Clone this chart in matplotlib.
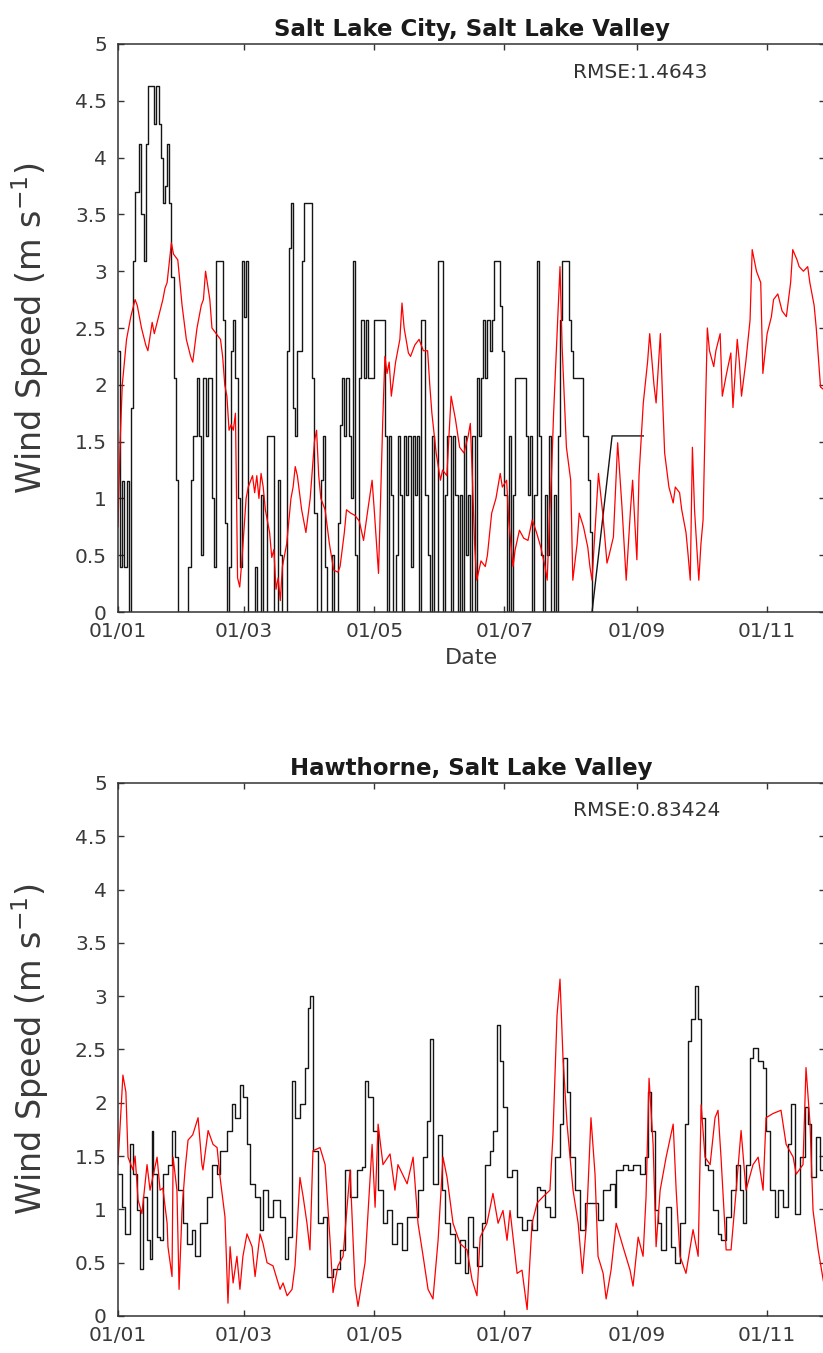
import matplotlib
matplotlib.use('Agg')
import matplotlib.pyplot as plt
from matplotlib.ticker import FixedLocator, FuncFormatter

# ---------------- data (day of year since 01/01, wind speed m/s) ----------------
month_days = [0, 59, 120, 181, 243, 304]
month_labels = ['01/01', '01/03', '01/05', '01/07', '01/09', '01/11']
y_ticks = [0, 0.5, 1, 1.5, 2, 2.5, 3, 3.5, 4, 4.5, 5]

titles = ['Salt Lake City, Salt Lake Valley', 'Hawthorne, Salt Lake Valley']
rmse_values = ['1.4643', '0.83424']

# Salt Lake City observed (black, stepped)
slc_obs = [(0,2.3),(1,0.4),(2,1.15),(3,0.4),(4,1.15),(5,0),(6,1.8),(7,3.09),(8,3.7),(10,4.12),
           (11,3.5),(12,3.09),(13,4.12),(14,4.63),(16,4.63),(17,4.3),(18,4.63),(19,4.3),(20,4.0),
           (21,3.6),(22,3.75),(23,4.12),(24,3.6),(25,2.95),(26,2.06),(27,1.16),(28,0),(33,0.4),
           (34,1.16),(35,1.55),(36,1.55),(37,2.06),(38,1.55),(39,0.5),(40,2.06),(41,1.55),(42,2.06),
           (43,2.06),(44,1.0),(45,0.4),(46,3.09),(48,3.09),(49,2.57),(50,0.78),(51,0),(52,0.4),
           (53,2.3),(54,2.57),(55,2.06),(56,1.0),(57,0.4),(58,3.09),(59,2.6),(60,3.09),(61,0),
           (64,0.4),(65,0),(67,1.03),(68,0),(70,1.55),(72,1.55),(73,0),(75,1.16),(76,0.5),(77,0),
           (79,2.3),(80,3.2),(81,3.6),(82,1.8),(83,1.55),(84,2.3),(86,3.09),(87,3.6),(90,3.6),
           (91,2.06),(92,0.87),(93,0),(95,1.16),(96,1.55),(97,0.4),(98,0),(100,0.5),(101,0),
           (103,0.78),(104,1.65),(105,2.06),(106,1.55),(107,2.06),(108,1.55),(109,1.0),(110,3.09),
           (111,0.5),(112,0),(113,2.06),(114,2.57),(115,2.06),(116,2.57),(117,2.06),(119,2.06),
           (120,2.57),(124,2.57),(125,1.55),(126,0),(127,1.55),(128,1.03),(129,0),(130,0.5),
           (131,1.55),(132,1.03),(133,0),(134,1.55),(135,1.03),(136,1.55),(137,0.4),(138,1.55),
           (139,1.03),(140,1.55),(141,0),(142,2.57),(143,2.57),(144,1.03),(145,0.5),(146,0),
           (147,1.55),(148,0),(150,3.09),(151,3.09),(152,0),(153,1.03),(154,1.55),(155,1.55),
           (156,0),(157,1.55),(158,1.03),(159,0),(160,1.03),(161,0),(162,1.55),(163,0.5),
           (164,1.03),(165,0),(166,1.55),(167,0),(168,2.06),(169,1.55),(170,2.06),(171,2.57),
           (172,2.06),(173,2.57),(174,2.3),(175,2.57),(176,3.09),(178,3.09),(179,2.69),(180,2.3),
           (181,1.03),(182,0),(183,1.55),(184,0),(185,1.03),(186,2.06),(190,2.06),(191,1.55),
           (192,1.03),(193,1.55),(194,0),(195,1.03),(196,3.09),(197,1.55),(198,0.5),(199,0),
           (200,1.03),(201,0.5),(202,1.55),(203,0),(204,1.03),(205,0),(206,1.55),(207,2.57),
           (208,3.09),(210,3.09),(211,2.57),(212,2.3),(213,2.06),(217,2.06),(218,1.55),
           (220,1.16),(221,0.7),(222,0)]
# Salt Lake City observed, interpolated across missing data
slc_obs_gap = [(222,0),(231.4,1.55),(246,1.55)]

# Salt Lake City modelled (red)
slc_mod = [(0,0.75),(1,1.5),(2,2.0),(4,2.4),(6,2.6),(8,2.75),(9,2.7),(11,2.5),(13,2.35),(14,2.3),
           (16,2.55),(17,2.45),(19,2.6),(21,2.75),(22,2.85),(23,2.9),(25,3.25),(26,3.15),(28,3.1),
           (30,2.7),(32,2.4),(34,2.25),(35,2.2),(37,2.5),(39,2.7),(40,2.75),(41,3.0),(43,2.75),
           (44,2.5),(46,2.45),(48,2.4),(49,2.25),(50,2.0),(51,1.9),(52,1.6),(53,1.65),(54,1.6),
           (55,1.75),(56,0.3),(57,0.22),(58,0.45),(60,1.0),(61,1.1),(63,1.2),(64,1.05),(65,1.2),
           (66,1.0),(67,1.22),(68,1.1),(69,0.9),(71,0.7),(72,0.48),(73,0.55),(74,0.2),(75,0.3),
           (76,0.1),(77,0.4),(79,0.6),(81,1.0),(82,1.1),(83,1.28),(84,1.2),(85,1.05),(86,0.9),
           (87,0.8),(88,0.7),(90,1.0),(92,1.5),(93,1.6),(94,1.2),(95,1.0),(97,0.9),(99,0.6),
           (101,0.37),(103,0.35),(104,0.4),(106,0.7),(107,0.9),(109,0.87),(111,0.85),(113,0.8),
           (115,0.63),(117,0.9),(119,1.16),(120,0.9),(122,0.34),(123,1.0),(124,1.69),(125,2.25),
           (126,2.1),(127,2.2),(128,1.9),(130,2.2),(132,2.4),(133,2.72),(134,2.5),(136,2.28),
           (137,2.25),(139,2.35),(141,2.4),(143,2.3),(145,2.3),(146,2.0),(147,1.75),(149,1.4),
           (151,1.16),(152,1.25),(154,1.2),(156,1.9),(158,1.7),(160,1.45),(162,1.4),(164,1.55),
           (165,1.66),(166,1.16),(167,0.6),(168,0.28),(170,0.45),(172,0.4),(173,0.5),(175,0.87),
           (177,1.0),(179,1.22),(180,1.1),(182,1.16),(183,0.8),(185,0.4),(186,0.55),(188,0.72),
           (190,0.65),(192,0.63),(194,0.81),(196,0.7),(198,0.57),(200,0.4),(201,0.28),(202,0.8),
           (203,1.2),(204,1.75),(206,2.6),(207,3.04),(208,2.33),(210,1.45),(212,1.16),(213,0.28),
           (215,0.6),(216,0.87),(218,0.75),(220,0.57),(221,0.4),(222,0.28),(224,0.9),(225,1.22),
           (227,0.87),(229,0.43),(230,0.5),(232,0.66),(234,1.49),(236,0.93),(237,0.6),(238,0.28),
           (240,0.9),(241,1.16),(242,0.8),(243,0.46),(244,1.2),(246,1.84),(248,2.2),(249,2.45),
           (251,2.0),(252,1.84),(254,2.45),(255,1.9),(256,1.4),(258,1.1),(260,0.96),(261,1.1),
           (263,1.05),(264,0.9),(266,0.7),(267,0.5),(268,0.28),(269,1.45),(270,0.9),(272,0.28),
           (273,0.6),(274,0.81),(275,1.69),(276,2.5),(277,2.3),(279,2.16),(280,2.3),(282,2.45),
           (283,1.9),(285,2.1),(287,2.28),(288,1.8),(290,2.4),(291,2.2),(292,1.9),(294,2.2),
           (296,2.57),(297,3.19),(299,3.0),(301,2.9),(302,2.1),(304,2.45),(306,2.6),(307,2.75),
           (309,2.8),(311,2.65),(313,2.6),(315,2.9),(316,3.19),(318,3.1),(319,3.04),(321,3.0),
           (323,3.04),(324,2.9),(326,2.7),(327,2.5),(329,1.98),(331,1.95)]

# Hawthorne observed (black)
haw_obs = [(0,1.33),(2,1.02),(3.3,0.77),(5.6,1.61),(7,1.33),(8.9,0.99),(10.3,0.44),(11.7,1.12),
           (13.6,0.71),(15,0.53),(15.9,1.74),(16.4,1.33),(18.3,0.74),(19.7,0.71),(21,1.33),
           (23.4,1.42),(25.3,1.74),(26.7,1.49),(28.1,1.18),(30.4,0.87),(32.3,0.68),(34.7,0.81),
           (36.1,0.56),(38.4,0.87),(41.7,1.12),(44,1.42),(46.4,1.33),(47.8,1.55),(51.1,1.74),
           (53.4,1.99),(54.8,1.86),(57.1,2.17),(58.5,2.05),(60.4,1.61),(61.8,1.24),(64.2,1.12),
           (66.5,0.81),(67.9,1.18),(70.3,0.93),(72.6,1.09),(75.9,0.93),(78.2,0.53),(79.6,0.74),
           (81.5,2.2),(82.9,1.86),(85.2,1.99),(87.6,2.33),(89,2.89),(89.9,3.0),(91.3,1.55),
           (93.7,0.87),(96,0.93),(97.9,0.37),(100.7,0.44),(104,0.62),(106.3,1.37),(108.7,1.12),
           (111.9,1.37),(114.3,1.4),(115.7,2.2),(117.1,2.05),(119.4,1.74),(121.8,1.18),
           (124.1,0.87),(126,0.99),(128.3,0.68),(130.7,0.87),(133,0.62),(135.4,0.93),(138.2,0.93),
           (140.5,1.18),(142.9,1.49),(144.7,1.83),(146.1,2.6),(147.5,1.24),(149.9,1.7),
           (151.8,1.18),(153.2,0.87),(155.5,0.77),(157.8,0.5),(160.2,0.71),(162.5,0.4),
           (163.9,0.93),(166.3,0.65),(168.1,0.47),(170.5,0.87),(171.9,1.42),(174.2,1.55),
           (175.6,1.74),(177.5,2.73),(178.9,2.39),(180.3,1.96),(182.2,1.3),(184.5,1.37),
           (186.9,0.93),(189.2,0.81),(191.6,0.9),(193.9,0.81),(196.3,1.21),(197.7,1.18),
           (200,1.02),(202.3,0.93),(204.7,1.49),(207,1.8),(208.4,2.42),(210.3,2.1),(211.7,1.49),
           (214,1.18),(216.4,0.81),(218.7,1.06),(222.5,1.06),(224.8,0.9),(227.2,1.18),
           (230.4,1.24),(232.8,1.02),(233.3,1.37),(236.5,1.42),(238.9,1.37),(241.2,1.42),
           (244.5,1.33),(246.8,1.49),(248.2,2.1),(249.6,1.74),(251.5,0.99),(252.9,0.87),
           (254.3,0.62),(256.7,1.02),(259,0.65),(260.9,0.5),(263.2,0.87),(265.6,1.8),(267,2.58),
           (268.4,2.79),(270.3,3.1),(271.7,2.79),(273.1,1.86),(274.9,1.42),(276.3,1.37),
           (278.7,0.99),(281,0.77),(282.4,0.71),(284.8,0.93),(287.1,1.18),(289.5,1.42),
           (291.3,1.18),(292.7,0.87),(294.1,1.42),(296,2.42),(297.4,2.51),(299.8,2.39),
           (302.1,2.33),(303.5,1.74),(305.4,1.18),(307.7,0.93),(309.1,1.18),(311.5,1.02),
           (313.8,1.61),(315.2,1.99),(317.1,0.96),(319.4,1.49),(321.8,1.96),(323.2,1.8),
           (324.6,1.3),(326.9,1.68),(328.8,1.37),(331,1.61)]

# Hawthorne modelled (red)
haw_mod = [(0,1.42),(2.3,2.26),(3.7,2.1),(4.7,1.49),(7,1.37),(8,1.5),(9.4,1.09),(11.2,0.96),
           (13.6,1.42),(15,1.18),(18.3,1.49),(19.7,1.18),(21,1.2),(23,0.87),(23.4,0.65),
           (25.3,0.37),(25.8,1.49),(27.6,1.18),(28.6,0.25),(30,1.0),(31.4,1.37),(32.8,1.65),
           (35,1.7),(37.5,1.86),(39.3,1.42),(39.8,1.37),(42.2,1.74),(44.5,1.61),(46.4,1.58),
           (47.8,1.3),(50.1,0.93),(51.5,0.12),(52.5,0.65),(53.9,0.31),(55.7,0.56),(57.1,0.25),
           (58.5,0.56),(60.4,0.77),(62.8,0.65),(64.2,0.37),(66.5,0.77),(67.9,0.68),(69.8,0.5),
           (72.6,0.47),(75.9,0.25),(77.3,0.31),(79.2,0.19),(81.5,0.25),(82.9,0.47),(85.2,1.3),
           (86.7,1.12),(88.5,0.87),(89.9,0.62),(91.3,1.55),(94.6,1.58),(97,1.42),(99.3,0.71),
           (100.7,0.22),(103,0.47),(105.4,0.56),(108.7,1.37),(111,0.28),(112.4,0.09),(115.7,0.5),
           (119,1.61),(120.4,1.02),(121.8,1.8),(124.1,1.42),(127.4,1.52),(129.7,1.18),
           (131.1,1.42),(135.4,1.24),(138.2,1.49),(140.5,0.87),(142.9,0.56),(145.2,0.25),
           (147.5,0.16),(149.9,0.71),(152.2,1.49),(154.1,1.3),(156.9,0.87),(160.2,0.68),
           (163.5,0.62),(165.8,0.34),(168.1,0.19),(169.6,0.74),(172.8,0.87),(175.6,1.15),
           (178,0.87),(180.3,0.99),(182.2,0.71),(183.6,0.99),(186.9,0.4),(189.2,0.43),
           (191.6,0.06),(193.9,0.87),(196.3,1.06),(199.1,1.12),(202.3,1.18),(203.7,1.7),
           (205.6,2.82),(207,3.16),(208.4,2.42),(210.3,1.8),(211.7,1.49),(213.1,1.18),
           (215.5,0.87),(217.5,0.4),(219.4,0.87),(221.5,1.86),(223.4,1.33),(224.8,0.56),
           (227.2,0.4),(228.6,0.16),(230.9,0.43),(233.3,0.87),(236.5,0.65),(239.8,0.43),
           (241.2,0.28),(243.6,0.74),(245.9,0.56),(247.3,1.12),(248.7,2.23),(250.6,1.61),
           (252,0.65),(253.9,1.18),(256.7,1.49),(260,1.8),(261.4,1.18),(263.2,0.56),(266,0.4),
           (269.3,0.81),(271.7,0.56),(273.1,1.98),(274.9,1.49),(277.3,1.42),(279.6,1.86),
           (281,1.93),(282.4,1.49),(284.8,0.62),(287.1,0.62),(289.5,1.18),(291.8,1.74),
           (294.1,1.18),(297.4,1.42),(299.8,1.49),(302.1,1.18),(303.5,1.86),(306.8,1.9),
           (310.5,1.93),(312.9,1.61),(316.2,1.49),(317.6,1.33),(320.8,1.42),(322.2,2.33),
           (324.1,1.8),(325.5,0.99),(327.9,0.62),(331,0.25)]

# ---------------- figure ----------------
fig = plt.figure(figsize=(8.23, 13.53), dpi=100)
ax1 = fig.add_axes([0.14338, 0.54767, 0.85905, 0.41981])
ax2 = fig.add_axes([0.14338, 0.02735, 0.85905, 0.39394])

BLACK = '#151515'
RED = '#ff0000'
GREY = '#3a3a3a'


def xy(pairs):
    d, v = zip(*pairs)
    return list(d), list(v)


d, v = xy(slc_obs)
ax1.plot(d, v, color=BLACK, lw=1.0, drawstyle='steps-post')
d, v = xy(slc_obs_gap)
ax1.plot(d, v, color=BLACK, lw=1.0)
d, v = xy(slc_mod)
ax1.plot(d, v, color=RED, lw=0.9)

d, v = xy(haw_obs)
ax2.plot(d, v, color=BLACK, lw=1.0, drawstyle='steps-post')
d, v = xy(haw_mod)
ax2.plot(d, v, color=RED, lw=0.9)

for ax, title, rmse in zip([ax1, ax2], titles, rmse_values):
    ax.set_xlim(0, 331.1)
    ax.set_ylim(0, 5)
    ax.xaxis.set_major_locator(FixedLocator(month_days))
    ax.set_xticklabels(month_labels)
    ax.yaxis.set_major_locator(FixedLocator(y_ticks))
    ax.yaxis.set_major_formatter(FuncFormatter(lambda val, pos: f'{val:g}'))
    ax.tick_params(direction='in', length=4.5, width=1.0, top=True, right=True,
                   labelsize=14.5, labelcolor=GREY, color='#333333')
    ax.tick_params(axis='x', pad=7)
    ax.tick_params(axis='y', pad=8)
    for s in ax.spines.values():
        s.set_color('#333333')
        s.set_linewidth(1.1)
    ax.set_title(title, fontsize=16.5, fontweight='bold', color='#1a1a1a', pad=6)
    ax.set_ylabel('Wind Speed (m s$^{\\mathregular{-1}}$)', fontsize=24, color=GREY)
    ax.yaxis.set_label_coords(-0.095, 0.5)
    ax.text(0.6436, 0.949, 'RMSE:' + rmse, transform=ax.transAxes, ha='left', va='center',
            fontsize=14.5, color='#333333')

ax1.set_xlabel('Date', fontsize=16, color=GREY, labelpad=5)

fig.savefig('out.png', dpi=100)
